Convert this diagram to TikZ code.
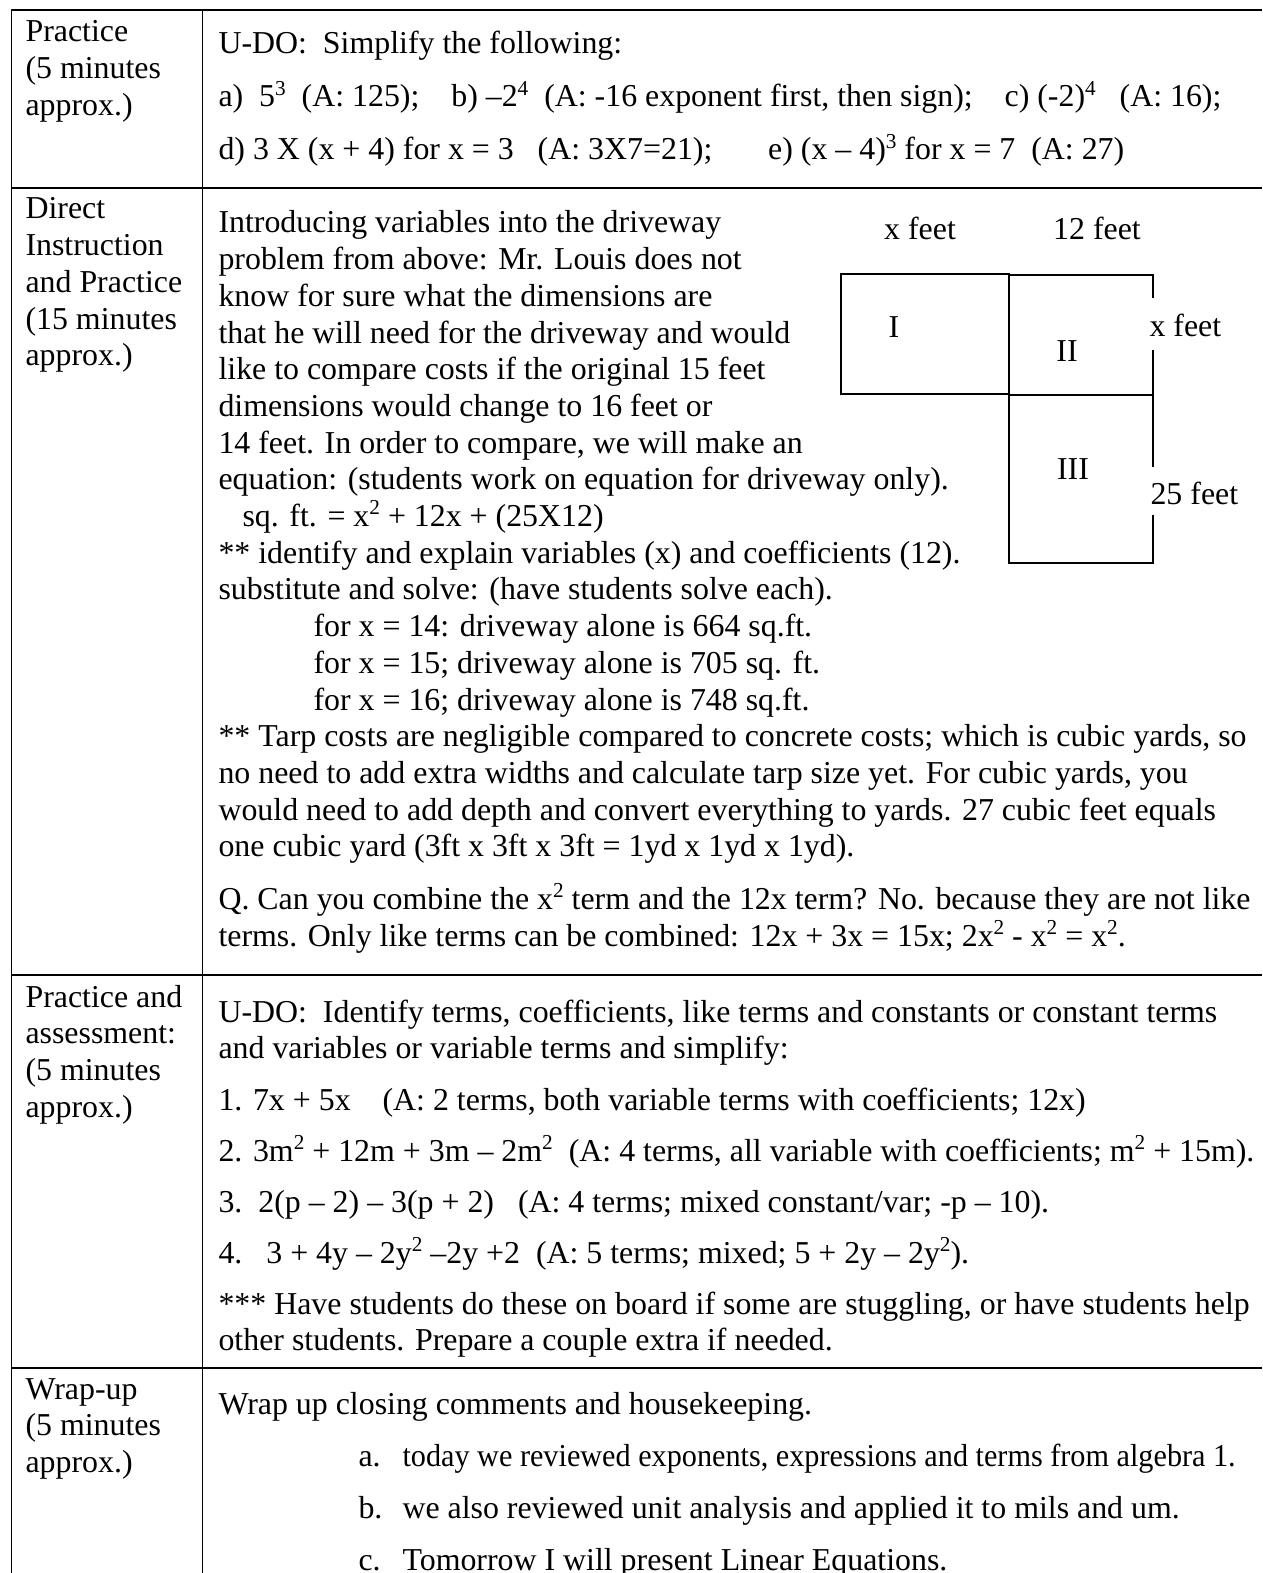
\documentclass[tikz,border=0pt]{standalone}
\usepackage{fontspec}
\setmainfont{Liberation Serif}
\usepackage{graphicx}
\usepackage{tikz}
\newcommand{\up}[1]{\raisebox{4.4pt}{\fontsize{8pt}{8pt}\selectfont #1}}
\begin{document}
\begin{tikzpicture}[x=0.3765pt,y=-0.3765pt]
\tikzstyle{every node}=[inner sep=0pt, anchor=base west,
  font=\fontsize{12pt}{13.8pt}\selectfont]
\tikzstyle{rule}=[line width=0.55pt]
\tikzstyle{plan}=[line width=0.6pt]
\tikzstyle{mid}=[anchor=base]
\useasboundingbox (0,0) rectangle (1262,1573);
\clip (0,0) rectangle (1262,1573);
\fill[white] (0,0) rectangle (1262,1573);
\draw[rule] (1262,10) -| (11.5,1573);
\draw[rule] (202.5,10) -- (202.5,1573);
\foreach \y in {188,975,1368}
  \draw[rule] (11.5,\y) -- (1262,\y);
\foreach \y/\t [count=\i] in {
  42/{Practice}, 78.7/{(5 minutes}, 115.4/{approx.)},
  219/{Direct}, 255.7/{Instruction}, 292.4/{and Practice},
  329.1/{(15 minutes}, 365.8/{approx.)},
  1007/{Practice and}, 1043.7/{assessment:}, 1080.4/{(5 minutes},
  1117.1/{approx.)},
  1399/{Wrap-up}, 1435.7/{(5 minutes}, 1472.4/{approx.)}}
  \node (phase\i) at (25,\y) {\t};
\foreach \x/\y/\t [count=\i] in {
  218/54/{U-DO:~~Simplify the following:},
  218/107/{a)~~5\up{3}~~(A: 125);~~~~b) –2\up{4}~~(A: -16 exponent first, then sign);~~~~c) (-2)\up{4}~~~(A: 16);},
  218/160/{d) 3 X (x + 4) for x = 3~~~(A: 3X7=21);~~~~~~~e) (x – 4)\up{3} for x = 7~~(A: 27)},
  218/233/{Introducing variables into the driveway},
  218/269.7/{problem from above: Mr. Louis does not},
  218/306.4/{know for sure what the dimensions are},
  218/343.1/{that he will need for the driveway and would},
  218/379.8/{like to compare costs if the original 15 feet},
  218/416.5/{dimensions would change to 16 feet or},
  218/453.2/{14 feet. In order to compare, we will make an},
  218/489.9/{equation: (students work on equation for driveway only).},
  242/526.6/{sq. ft. = x\up{2} + 12x + (25X12)},
  218/563.3/{** identify and explain variables (x) and coefficients (12).},
  218/600/{substitute and solve: (have students solve each).},
  313/636.7/{for x = 14: driveway alone is 664 sq.ft.},
  313/673.4/{for x = 15; driveway alone is 705 sq. ft.},
  313/710.1/{for x = 16; driveway alone is 748 sq.ft.},
  218/746.8/{** Tarp costs are negligible compared to concrete costs; which is cubic yards, so},
  218/783.5/{no need to add extra widths and calculate tarp size yet. For cubic yards, you},
  218/820.2/{would need to add depth and convert everything to yards. 27 cubic feet equals},
  218/856.9/{one cubic yard (3ft x 3ft x 3ft = 1yd x 1yd x 1yd).},
  218/909.6/{Q. Can you combine the x\up{2} term and the 12x term? No. because they are not like},
  218/946.3/{terms. Only like terms can be combined: 12x + 3x = 15x; 2x\up{2} - x\up{2} = x\up{2}.},
  218/1022/{U-DO:~~Identify terms, coefficients, like terms and constants or constant terms},
  218/1058.7/{and variables or variable terms and simplify:},
  218/1110/{1. 7x + 5x~~~~(A: 2 terms, both variable terms with coefficients; 12x)},
  218/1161/{2. 3m\up{2} + 12m + 3m – 2m\up{2}~~(A: 4 terms, all variable with coefficients; m\up{2} + 15m).},
  218/1212/{3.~~2(p – 2) – 3(p + 2)~~~(A: 4 terms; mixed constant/var; -p – 10).},
  218/1263/{4.~~~3 + 4y – 2y\up{2} –2y +2~~(A: 5 terms; mixed; 5 + 2y – 2y\up{2}).},
  218/1314/{*** Have students do these on board if some are stuggling, or have students help},
  218/1350.7/{other students. Prepare a couple extra if needed.},
  218/1414/{Wrap up closing comments and housekeeping.},
  358/1466/{a.}, 402/1466/{\scalebox{0.948}[1]{today we reviewed exponents, expressions and terms from algebra 1.}},
  358/1518/{b.}, 402/1518/{we also reviewed unit analysis and applied it to mils and um.},
  358/1570/{c.}, 402/1570/{Tomorrow I will present Linear Equations.}}
  \node (line\i) at (\x,\y) {\t};
\draw[plan] (841,274) rectangle (1009,394);
\draw[plan] (1009,274) -- (1009,563) -- (1153,563) -- (1153,515);
\draw[plan] (1009,275) -- (1153,275) -- (1153,298);
\draw[plan] (1009,395) -- (1153,395);
\draw[plan] (1153,350) -- (1153,467);
\node[mid] (wtop) at (920,240) {x feet};
\node[mid] (ltop) at (1097,240) {12 feet};
\node[mid] (one) at (894,338) {I};
\node[mid] (two) at (1067,362) {II};
\node[mid] (three) at (1073,480) {III};
\node (wside) at (1149,337) {x feet};
\node (lside) at (1150,505) {25 feet};
\end{tikzpicture}
\end{document}
